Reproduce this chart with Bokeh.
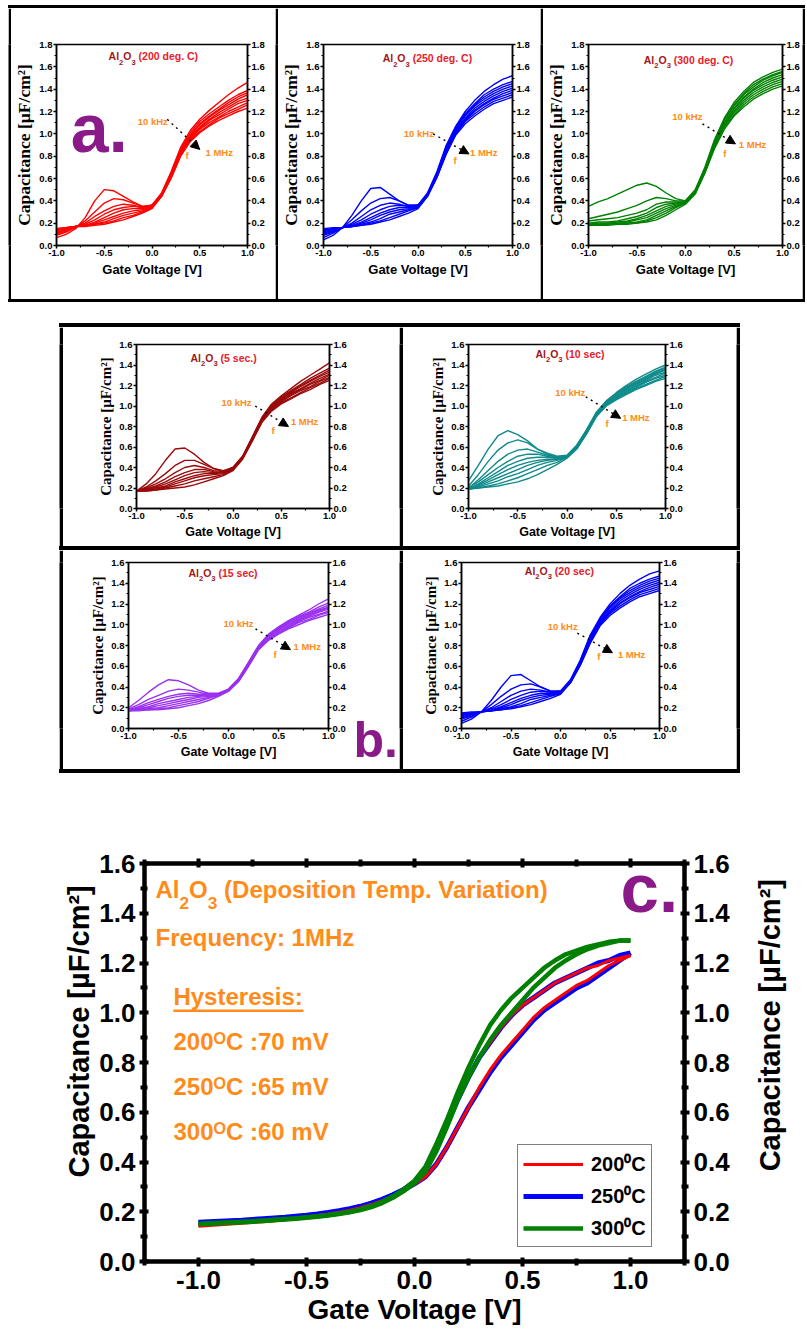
import math

from bokeh.core.validation import silence
from bokeh.core.validation.warnings import MISSING_RENDERERS
from bokeh.embed import file_html
from bokeh.layouts import column, row
from bokeh.models import (Arrow, BoxAnnotation, CustomJSTickFormatter, FixedTicker, Label,
                          Legend, LegendItem, LinearAxis, NormalHead, PrintfTickFormatter,
                          Range1d, Spacer)
from bokeh.plotting import figure
from bokeh.resources import INLINE

silence(MISSING_RENDERERS, True)

# ---------------------------------------------------------------- data
# gate bias sweep used for the frequency-dispersion families (V)
gate_v = [-1.0, -0.9, -0.8, -0.7, -0.6, -0.5, -0.4, -0.3, -0.2, -0.1, 0.0,
          0.1, 0.2, 0.3, 0.4, 0.5, 0.6, 0.7, 0.8, 0.9, 1.0]

# capacitance (uF/cm2), one row per frequency from 10 kHz (first) to 1 MHz (last)
cap_200C = [
    [0.07, 0.10, 0.15, 0.25, 0.40, 0.50, 0.49, 0.44, 0.39, 0.35, 0.36, 0.47, 0.66, 0.88, 1.03, 1.13, 1.21, 1.28, 1.35, 1.41, 1.46],
    [0.09, 0.12, 0.16, 0.22, 0.30, 0.38, 0.42, 0.41, 0.38, 0.35, 0.36, 0.46, 0.65, 0.86, 1.01, 1.11, 1.18, 1.24, 1.30, 1.35, 1.39],
    [0.10, 0.13, 0.17, 0.20, 0.26, 0.31, 0.35, 0.37, 0.36, 0.34, 0.36, 0.46, 0.64, 0.85, 0.99, 1.09, 1.16, 1.22, 1.28, 1.33, 1.37],
    [0.11, 0.14, 0.17, 0.19, 0.23, 0.28, 0.32, 0.34, 0.35, 0.34, 0.36, 0.45, 0.63, 0.84, 0.98, 1.08, 1.15, 1.21, 1.26, 1.31, 1.35],
    [0.12, 0.15, 0.17, 0.18, 0.21, 0.25, 0.29, 0.32, 0.33, 0.33, 0.35, 0.45, 0.62, 0.83, 0.97, 1.06, 1.13, 1.19, 1.24, 1.29, 1.32],
    [0.13, 0.15, 0.17, 0.18, 0.20, 0.23, 0.26, 0.29, 0.31, 0.32, 0.35, 0.45, 0.62, 0.82, 0.96, 1.05, 1.12, 1.17, 1.22, 1.27, 1.30],
    [0.14, 0.16, 0.17, 0.18, 0.19, 0.21, 0.24, 0.27, 0.29, 0.31, 0.34, 0.44, 0.61, 0.81, 0.95, 1.04, 1.10, 1.15, 1.20, 1.24, 1.28],
    [0.15, 0.16, 0.17, 0.18, 0.19, 0.20, 0.22, 0.25, 0.27, 0.30, 0.34, 0.44, 0.61, 0.81, 0.94, 1.02, 1.08, 1.14, 1.18, 1.22, 1.26],
    [0.15, 0.16, 0.17, 0.17, 0.18, 0.19, 0.21, 0.23, 0.26, 0.29, 0.33, 0.44, 0.60, 0.80, 0.93, 1.01, 1.07, 1.12, 1.16, 1.20, 1.23],
]
cap_250C = [
    [0.05, 0.09, 0.16, 0.27, 0.40, 0.51, 0.52, 0.46, 0.40, 0.36, 0.36, 0.47, 0.66, 0.90, 1.07, 1.20, 1.30, 1.38, 1.44, 1.49, 1.52],
    [0.07, 0.11, 0.16, 0.23, 0.31, 0.38, 0.42, 0.43, 0.40, 0.36, 0.36, 0.46, 0.65, 0.89, 1.06, 1.18, 1.27, 1.35, 1.40, 1.44, 1.47],
    [0.09, 0.12, 0.16, 0.20, 0.26, 0.32, 0.36, 0.38, 0.37, 0.35, 0.36, 0.46, 0.64, 0.88, 1.05, 1.17, 1.26, 1.33, 1.38, 1.42, 1.45],
    [0.10, 0.13, 0.16, 0.19, 0.23, 0.28, 0.32, 0.35, 0.36, 0.35, 0.36, 0.45, 0.63, 0.87, 1.04, 1.16, 1.25, 1.31, 1.36, 1.40, 1.43],
    [0.11, 0.14, 0.16, 0.18, 0.21, 0.25, 0.29, 0.32, 0.34, 0.34, 0.35, 0.45, 0.63, 0.86, 1.03, 1.14, 1.23, 1.29, 1.34, 1.38, 1.41],
    [0.12, 0.15, 0.16, 0.17, 0.20, 0.23, 0.27, 0.30, 0.32, 0.33, 0.35, 0.45, 0.62, 0.85, 1.02, 1.13, 1.21, 1.27, 1.32, 1.36, 1.39],
    [0.13, 0.15, 0.16, 0.17, 0.19, 0.21, 0.24, 0.28, 0.30, 0.32, 0.34, 0.44, 0.62, 0.84, 1.01, 1.12, 1.20, 1.26, 1.31, 1.34, 1.37],
    [0.14, 0.15, 0.16, 0.17, 0.18, 0.20, 0.22, 0.25, 0.28, 0.31, 0.34, 0.44, 0.61, 0.83, 1.00, 1.11, 1.18, 1.24, 1.29, 1.32, 1.35],
    [0.15, 0.16, 0.16, 0.17, 0.18, 0.19, 0.21, 0.23, 0.26, 0.29, 0.33, 0.44, 0.61, 0.82, 0.99, 1.09, 1.16, 1.22, 1.27, 1.30, 1.33],
]
cap_300C = [
    [0.35, 0.39, 0.42, 0.46, 0.50, 0.54, 0.56, 0.53, 0.47, 0.42, 0.40, 0.50, 0.70, 0.95, 1.14, 1.28, 1.38, 1.46, 1.51, 1.55, 1.58],
    [0.24, 0.26, 0.28, 0.30, 0.33, 0.36, 0.40, 0.43, 0.42, 0.40, 0.40, 0.49, 0.69, 0.94, 1.13, 1.26, 1.36, 1.44, 1.49, 1.53, 1.56],
    [0.22, 0.23, 0.24, 0.25, 0.27, 0.29, 0.32, 0.37, 0.39, 0.39, 0.39, 0.49, 0.68, 0.93, 1.12, 1.25, 1.35, 1.42, 1.48, 1.52, 1.55],
    [0.20, 0.21, 0.21, 0.22, 0.24, 0.26, 0.29, 0.34, 0.37, 0.38, 0.39, 0.48, 0.67, 0.92, 1.10, 1.23, 1.33, 1.40, 1.46, 1.50, 1.53],
    [0.19, 0.20, 0.20, 0.21, 0.22, 0.24, 0.27, 0.31, 0.35, 0.37, 0.39, 0.48, 0.67, 0.91, 1.09, 1.22, 1.32, 1.39, 1.44, 1.48, 1.51],
    [0.19, 0.19, 0.20, 0.20, 0.21, 0.23, 0.25, 0.29, 0.33, 0.36, 0.39, 0.48, 0.66, 0.90, 1.08, 1.20, 1.30, 1.37, 1.42, 1.46, 1.49],
    [0.18, 0.19, 0.19, 0.20, 0.20, 0.21, 0.23, 0.27, 0.31, 0.35, 0.38, 0.47, 0.66, 0.89, 1.07, 1.19, 1.28, 1.35, 1.40, 1.44, 1.47],
    [0.18, 0.18, 0.19, 0.19, 0.20, 0.20, 0.22, 0.25, 0.29, 0.34, 0.38, 0.47, 0.65, 0.88, 1.06, 1.17, 1.26, 1.33, 1.38, 1.42, 1.45],
    [0.18, 0.18, 0.18, 0.19, 0.19, 0.20, 0.21, 0.23, 0.27, 0.32, 0.37, 0.46, 0.65, 0.87, 1.04, 1.16, 1.24, 1.31, 1.36, 1.40, 1.43],
]
cap_5s = [
    [0.17, 0.24, 0.34, 0.47, 0.58, 0.59, 0.53, 0.45, 0.39, 0.37, 0.40, 0.51, 0.70, 0.89, 1.02, 1.10, 1.17, 1.24, 1.30, 1.36, 1.42],
    [0.17, 0.21, 0.27, 0.34, 0.42, 0.47, 0.47, 0.43, 0.39, 0.36, 0.40, 0.51, 0.69, 0.88, 1.01, 1.09, 1.15, 1.21, 1.27, 1.32, 1.37],
    [0.17, 0.20, 0.24, 0.29, 0.35, 0.40, 0.42, 0.40, 0.37, 0.36, 0.40, 0.50, 0.69, 0.88, 1.00, 1.08, 1.14, 1.20, 1.25, 1.30, 1.35],
    [0.17, 0.19, 0.22, 0.26, 0.31, 0.35, 0.38, 0.38, 0.36, 0.35, 0.39, 0.50, 0.68, 0.87, 0.99, 1.07, 1.13, 1.19, 1.24, 1.29, 1.33],
    [0.17, 0.18, 0.21, 0.24, 0.28, 0.32, 0.35, 0.36, 0.35, 0.35, 0.39, 0.50, 0.68, 0.86, 0.98, 1.06, 1.12, 1.17, 1.22, 1.27, 1.31],
    [0.17, 0.18, 0.20, 0.22, 0.26, 0.29, 0.32, 0.34, 0.34, 0.35, 0.39, 0.49, 0.67, 0.86, 0.98, 1.05, 1.11, 1.16, 1.21, 1.25, 1.30],
    [0.17, 0.18, 0.19, 0.21, 0.24, 0.27, 0.30, 0.32, 0.33, 0.34, 0.38, 0.49, 0.67, 0.85, 0.97, 1.04, 1.10, 1.15, 1.19, 1.24, 1.28],
    [0.17, 0.17, 0.18, 0.20, 0.22, 0.24, 0.27, 0.29, 0.31, 0.33, 0.38, 0.49, 0.66, 0.85, 0.96, 1.03, 1.08, 1.13, 1.18, 1.22, 1.27],
    [0.17, 0.17, 0.18, 0.19, 0.20, 0.21, 0.23, 0.26, 0.29, 0.32, 0.37, 0.48, 0.66, 0.84, 0.95, 1.02, 1.07, 1.12, 1.16, 1.21, 1.25],
]
cap_10s = [
    [0.27, 0.42, 0.58, 0.71, 0.76, 0.72, 0.66, 0.58, 0.54, 0.51, 0.52, 0.62, 0.77, 0.94, 1.05, 1.13, 1.20, 1.26, 1.31, 1.36, 1.40],
    [0.22, 0.33, 0.46, 0.57, 0.64, 0.67, 0.64, 0.58, 0.53, 0.50, 0.51, 0.61, 0.77, 0.94, 1.05, 1.12, 1.19, 1.24, 1.29, 1.34, 1.38],
    [0.20, 0.28, 0.37, 0.46, 0.53, 0.57, 0.58, 0.55, 0.52, 0.50, 0.51, 0.61, 0.76, 0.93, 1.04, 1.12, 1.18, 1.23, 1.28, 1.33, 1.37],
    [0.20, 0.26, 0.33, 0.40, 0.46, 0.51, 0.53, 0.53, 0.51, 0.49, 0.51, 0.61, 0.76, 0.93, 1.04, 1.11, 1.17, 1.22, 1.27, 1.32, 1.36],
    [0.19, 0.24, 0.30, 0.36, 0.42, 0.46, 0.49, 0.50, 0.50, 0.49, 0.51, 0.60, 0.75, 0.92, 1.03, 1.10, 1.16, 1.21, 1.26, 1.31, 1.35],
    [0.19, 0.23, 0.28, 0.33, 0.38, 0.42, 0.45, 0.47, 0.48, 0.48, 0.51, 0.60, 0.75, 0.92, 1.03, 1.10, 1.15, 1.20, 1.25, 1.30, 1.33],
    [0.19, 0.22, 0.26, 0.30, 0.34, 0.38, 0.42, 0.45, 0.47, 0.48, 0.51, 0.60, 0.74, 0.91, 1.02, 1.09, 1.14, 1.19, 1.24, 1.28, 1.32],
    [0.19, 0.21, 0.24, 0.27, 0.31, 0.34, 0.38, 0.42, 0.45, 0.47, 0.50, 0.59, 0.74, 0.91, 1.02, 1.08, 1.13, 1.18, 1.23, 1.27, 1.30],
    [0.19, 0.20, 0.22, 0.24, 0.27, 0.30, 0.34, 0.38, 0.42, 0.45, 0.50, 0.59, 0.73, 0.90, 1.01, 1.07, 1.12, 1.17, 1.21, 1.25, 1.29],
    [0.19, 0.20, 0.21, 0.22, 0.24, 0.26, 0.29, 0.33, 0.38, 0.43, 0.49, 0.58, 0.73, 0.90, 1.00, 1.06, 1.11, 1.16, 1.20, 1.24, 1.27],
]
cap_15s = [
    [0.20, 0.27, 0.35, 0.42, 0.47, 0.46, 0.42, 0.37, 0.34, 0.34, 0.38, 0.48, 0.64, 0.80, 0.91, 0.98, 1.04, 1.09, 1.14, 1.20, 1.25],
    [0.19, 0.23, 0.28, 0.32, 0.36, 0.38, 0.37, 0.35, 0.33, 0.33, 0.38, 0.48, 0.63, 0.79, 0.90, 0.97, 1.03, 1.08, 1.12, 1.17, 1.21],
    [0.18, 0.21, 0.25, 0.28, 0.31, 0.33, 0.34, 0.33, 0.33, 0.33, 0.37, 0.47, 0.63, 0.79, 0.89, 0.96, 1.02, 1.07, 1.11, 1.15, 1.19],
    [0.18, 0.20, 0.23, 0.26, 0.29, 0.31, 0.32, 0.32, 0.32, 0.33, 0.37, 0.47, 0.62, 0.78, 0.89, 0.96, 1.01, 1.06, 1.10, 1.14, 1.17],
    [0.18, 0.19, 0.21, 0.24, 0.26, 0.28, 0.30, 0.31, 0.32, 0.33, 0.37, 0.47, 0.62, 0.78, 0.88, 0.95, 1.00, 1.05, 1.09, 1.13, 1.16],
    [0.17, 0.19, 0.20, 0.22, 0.24, 0.26, 0.28, 0.30, 0.31, 0.32, 0.37, 0.46, 0.61, 0.77, 0.88, 0.94, 0.99, 1.04, 1.08, 1.12, 1.15],
    [0.17, 0.18, 0.19, 0.20, 0.22, 0.24, 0.26, 0.28, 0.30, 0.32, 0.37, 0.46, 0.61, 0.77, 0.87, 0.93, 0.98, 1.03, 1.07, 1.10, 1.13],
    [0.17, 0.18, 0.18, 0.19, 0.20, 0.22, 0.24, 0.26, 0.29, 0.32, 0.36, 0.46, 0.60, 0.76, 0.86, 0.92, 0.97, 1.02, 1.05, 1.09, 1.12],
    [0.17, 0.17, 0.18, 0.18, 0.19, 0.20, 0.22, 0.24, 0.27, 0.31, 0.36, 0.45, 0.60, 0.76, 0.85, 0.91, 0.96, 1.00, 1.04, 1.07, 1.10],
]
# the 20 s film is the same device as the 250 deg. C run
cap_20s = cap_250C

# 1 MHz hysteresis loops (forward / reverse sweep), finer bias step
gate_v_fine = [-1.0, -0.95, -0.9, -0.85, -0.8, -0.75, -0.7, -0.65, -0.6, -0.55, -0.5,
               -0.45, -0.4, -0.35, -0.3, -0.25, -0.2, -0.15, -0.1, -0.05, 0.0,
               0.05, 0.1, 0.15, 0.2, 0.25, 0.3, 0.35, 0.4, 0.45, 0.5,
               0.55, 0.6, 0.65, 0.7, 0.75, 0.8, 0.85, 0.9, 0.95, 1.0]
loop_200C_up = [0.145, 0.148, 0.151, 0.154, 0.157, 0.160, 0.163, 0.167, 0.171, 0.175, 0.180,
                0.185, 0.191, 0.198, 0.206, 0.216, 0.229, 0.245, 0.264, 0.287, 0.315,
                0.37, 0.45, 0.55, 0.65, 0.74, 0.82, 0.88, 0.94, 0.99, 1.03,
                1.06, 1.09, 1.12, 1.14, 1.16, 1.18, 1.19, 1.21, 1.22, 1.23]
loop_200C_down = [0.142, 0.145, 0.148, 0.151, 0.154, 0.157, 0.160, 0.164, 0.168, 0.172, 0.177,
                  0.182, 0.188, 0.195, 0.204, 0.214, 0.227, 0.243, 0.262, 0.285, 0.310,
                  0.34, 0.39, 0.46, 0.54, 0.62, 0.70, 0.77, 0.83, 0.88, 0.93,
                  0.98, 1.02, 1.05, 1.08, 1.11, 1.13, 1.16, 1.19, 1.21, 1.23]
loop_250C_up = [0.158, 0.160, 0.162, 0.164, 0.166, 0.169, 0.172, 0.175, 0.178, 0.182, 0.186,
                0.191, 0.197, 0.204, 0.212, 0.222, 0.235, 0.250, 0.268, 0.290, 0.318,
                0.37, 0.45, 0.55, 0.65, 0.74, 0.82, 0.88, 0.94, 0.99, 1.03,
                1.06, 1.09, 1.12, 1.14, 1.16, 1.18, 1.20, 1.21, 1.23, 1.24]
loop_250C_down = [0.155, 0.157, 0.159, 0.161, 0.163, 0.165, 0.168, 0.171, 0.174, 0.178, 0.182,
                  0.187, 0.193, 0.200, 0.209, 0.220, 0.233, 0.248, 0.266, 0.288, 0.312,
                  0.34, 0.39, 0.46, 0.54, 0.62, 0.69, 0.76, 0.82, 0.87, 0.92,
                  0.97, 1.01, 1.04, 1.07, 1.10, 1.12, 1.15, 1.18, 1.21, 1.24]
loop_300C_up = [0.152, 0.154, 0.156, 0.158, 0.160, 0.162, 0.165, 0.168, 0.171, 0.174, 0.178,
                0.182, 0.187, 0.193, 0.200, 0.210, 0.223, 0.240, 0.262, 0.290, 0.325,
                0.38, 0.47, 0.57, 0.68, 0.78, 0.87, 0.95, 1.01, 1.06, 1.10,
                1.14, 1.18, 1.21, 1.235, 1.25, 1.265, 1.275, 1.285, 1.29, 1.29]
loop_300C_down = [0.150, 0.152, 0.154, 0.156, 0.158, 0.160, 0.163, 0.166, 0.169, 0.172, 0.176,
                  0.180, 0.185, 0.191, 0.198, 0.207, 0.219, 0.235, 0.256, 0.283, 0.315,
                  0.36, 0.44, 0.54, 0.65, 0.74, 0.82, 0.89, 0.95, 1.00, 1.05,
                  1.10, 1.14, 1.18, 1.21, 1.235, 1.255, 1.27, 1.28, 1.29, 1.29]

loop_labels = ["200⁰C", "250⁰C", "300⁰C"]
hysteresis_notes = ["200ᴼC :70 mV", "250ᴼC :65 mV", "300ᴼC :60 mV"]

# axis ticks
x_ticks = [-1.0, -0.5, 0.0, 0.5, 1.0]
x_minor = [-0.75, -0.25, 0.25, 0.75]
x_minor_wide = [-1.25, -0.75, -0.25, 0.25, 0.75, 1.25]
y_ticks_18 = [0.0, 0.2, 0.4, 0.6, 0.8, 1.0, 1.2, 1.4, 1.6, 1.8]
y_minor_18 = [0.1, 0.3, 0.5, 0.7, 0.9, 1.1, 1.3, 1.5, 1.7]
y_ticks_16 = [0.0, 0.2, 0.4, 0.6, 0.8, 1.0, 1.2, 1.4, 1.6]
y_minor_16 = [0.1, 0.3, 0.5, 0.7, 0.9, 1.1, 1.3, 1.5]

# ---------------------------------------------------------------- styling
SANS = "Liberation Sans"
SERIF = "Liberation Serif"
ORANGE = "#ff8c1a"
PURPLE = "#8b1a89"
TITLE_DARK = "#a01820"
TITLE_RED = "#e8202a"


def vrule(w, h):
    """A solid black upright strip used for the panel frames."""
    return figure(width=w, height=h, title=None, toolbar_location=None, output_backend="svg",
                  min_border=0, x_axis_type=None, y_axis_type=None,
                  background_fill_color="black", border_fill_color="black",
                  outline_line_color=None)


def hrule(w, h):
    """A solid black flat strip used for the panel frames."""
    return Spacer(width=w, height=h, styles={"background-color": "black"})


def strip(w, h, y_range=None):
    """A blank canvas holding free-standing text (x measured in pixels)."""
    return figure(width=w, height=h, title=None, toolbar_location=None, output_backend="svg",
                  min_border=0, x_axis_type=None, y_axis_type=None,
                  x_range=Range1d(0, w), y_range=y_range or Range1d(0, h),
                  background_fill_color="white", border_fill_color="white",
                  outline_line_color=None)


def dress(ax, ticker, size, lw=1.5, t_out=3, m_out=2):
    ax.ticker = ticker
    ax.formatter = PrintfTickFormatter(format="%.1f")
    ax.axis_line_width = lw
    ax.major_tick_line_width = lw
    ax.minor_tick_line_width = lw * 0.8
    ax.major_tick_in = 0
    ax.major_tick_out = t_out
    ax.minor_tick_in = 0
    ax.minor_tick_out = m_out
    ax.major_label_text_font = SANS
    ax.major_label_text_font_style = "bold"
    ax.major_label_text_font_size = size
    ax.major_label_text_color = "black"
    ax.major_label_standoff = 1


def txt(x, y, text, size, color, font=SANS, dy=0.0, **kw):
    """Bold label whose baseline sits at (x, y), optionally shifted by dy pixels."""
    return Label(x=x, y=y, y_offset=-0.2 * size + dy, text=text, text_font=font,
                 text_font_style="bold", text_font_size=f"{size:.1f}px", text_color=color,
                 text_baseline="bottom", **kw)


def alumina(p, x, y, size, color):
    """Write Al2O3 with lowered digits; returns its advance width in pixels."""
    sub = 0.72 * size
    parts = [("Al", size, 0.0, 1.0 * size), ("2", sub, -0.28 * size, 0.556 * sub),
             ("O", size, 0.0, 0.778 * size), ("3", sub, -0.28 * size, 0.556 * sub)]
    off = 0.0
    for text, s, dy, w in parts:
        p.add_layout(txt(x, y, text, s, color, dy=dy, x_offset=off))
        off += w
    return off


def cv_panel(width, height, borders, y_max, y_ticks, y_minor, curves, color,
             caption, notes, fs):
    ml, mr, mt, mb = borders
    p = figure(width=width, height=height, title=None, x_range=Range1d(-1.0, 1.0),
               y_range=Range1d(0.0, y_max), toolbar_location=None, output_backend="svg",
               min_border_left=ml, min_border_right=mr, min_border_top=mt,
               min_border_bottom=mb, outline_line_color="black", outline_line_width=1.5,
               background_fill_color="white", border_fill_color="white")
    p.xgrid.visible = False
    p.ygrid.visible = False
    p.multi_line(xs=[gate_v] * len(curves), ys=curves, line_color=color, line_width=1.4)

    left, bottom = p.yaxis[0], p.xaxis[0]
    right = LinearAxis()
    p.add_layout(right, "right")
    for ax in (left, right):
        dress(ax, FixedTicker(ticks=y_ticks, minor_ticks=y_minor), fs["tick"])
    dress(bottom, FixedTicker(ticks=x_ticks, minor_ticks=x_minor), fs["tick"])

    bottom.axis_label = "Gate Voltage [V]"
    bottom.axis_label_text_font = SANS
    bottom.axis_label_text_font_style = "bold"
    bottom.axis_label_text_font_size = fs["xlab"]
    bottom.axis_label_text_color = "black"
    bottom.axis_label_standoff = 3
    left.axis_label = "Capacitance [µF/cm²]"
    left.axis_label_text_font = SERIF
    left.axis_label_text_font_style = "bold"
    left.axis_label_text_font_size = fs["ylab"]
    left.axis_label_text_color = "black"
    left.axis_label_standoff = 2

    tx, ty = notes["title"]
    adv = alumina(p, tx, ty, fs["title"], TITLE_DARK)
    p.add_layout(txt(tx, ty, caption, fs["title"], TITLE_RED,
                     x_offset=adv + 0.278 * fs["title"]))
    p.add_layout(txt(*notes["khz"], "10 kHz", fs["note"], ORANGE))
    p.add_layout(txt(*notes["mhz"], "1 MHz", fs["note"], ORANGE))
    p.add_layout(txt(*notes["f"], "f", fs["note"], ORANGE))
    x0, y0, x1, y1 = notes["arrow"]
    p.add_layout(Arrow(x_start=x0, y_start=y0, x_end=x1, y_end=y1, line_color="black",
                       line_width=1.4, line_dash="dotted",
                       end=NormalHead(size=9, fill_color="black", line_color="black")))
    return p


fs_a = dict(tick="9.5px", xlab="13px", ylab="17.5px", title=10.5, note=9.5)
fs_b = dict(tick="9.5px", xlab="12.5px", ylab="15px", title=10.5, note=9.5)

# ---------------------------------------------------------------- row a
pa1 = cv_panel(264, 291, (38, 28, 36, 52), 1.8, y_ticks_18, y_minor_18, cap_200C, "#ff0000",
               "(200 deg. C)",
               dict(title=(-0.455, 1.66), khz=(-0.15, 1.08), arrow=(0.16, 1.13, 0.50, 0.86),
                    mhz=(0.56, 0.80), f=(0.35, 0.77)), fs_a)
pa1.add_layout(txt(-0.85, 0.83, "a.", 68, PURPLE))
pa2 = cv_panel(262, 291, (39, 28, 36, 54), 1.8, y_ticks_18, y_minor_18, cap_250C, "#0000ff",
               "(250 deg. C)",
               dict(title=(-0.374, 1.64), khz=(-0.15, 0.97), arrow=(0.16, 1.00, 0.54, 0.82),
                    mhz=(0.55, 0.80), f=(0.375, 0.73)), fs_a)
pa3 = cv_panel(259, 291, (41, 12, 32, 51), 1.8, y_ticks_18, y_minor_18, cap_300C, "#008000",
               "(300 deg. C)",
               dict(title=(-0.43, 1.63), khz=(-0.136, 1.125), arrow=(0.175, 1.09, 0.515, 0.91),
                    mhz=(0.55, 0.874), f=(0.39, 0.79)), fs_a)

box_a = column(
    hrule(797, 3),
    row(vrule(3, 291), pa1, vrule(3, 291), pa2, vrule(3, 291), pa3, vrule(3, 291)),
    hrule(797, 3),
)

# ---------------------------------------------------------------- row b
pb1 = cv_panel(336, 219, (73, 70, 17, 38), 1.6, y_ticks_16, y_minor_16, cap_5s, "#9a0a0a",
               "(5 sec.)",
               dict(title=(-0.44, 1.43), khz=(-0.12, 0.995), arrow=(0.23, 1.0, 0.575, 0.80),
                    mhz=(0.60, 0.81), f=(0.40, 0.73)), fs_b)
pb2 = cv_panel(333, 219, (65, 71, 16, 38), 1.6, y_ticks_16, y_minor_16, cap_10s, "#108a8a",
               "(10 sec)",
               dict(title=(-0.32, 1.47), khz=(-0.12, 1.10), arrow=(0.19, 1.09, 0.545, 0.88),
                    mhz=(0.56, 0.85), f=(0.39, 0.79)), fs_b)
pb3 = cv_panel(285, 219, (65, 20, 12, 37), 1.6, y_ticks_16, y_minor_16, cap_15s, "#9a30f0",
               "(15 sec)",
               dict(title=(-0.40, 1.46), khz=(-0.05, 0.98), arrow=(0.27, 0.96, 0.62, 0.76),
                    mhz=(0.65, 0.76), f=(0.45, 0.68)), fs_b)
tag_b = strip(51, 73)
tag_b.add_layout(txt(5, 12, "b.", 50, PURPLE))
tag_col = column(Spacer(width=51, height=146), tag_b)
pb4 = cv_panel(333, 219, (58, 77, 9, 41), 1.6, y_ticks_16, y_minor_16, cap_20s, "#0000ff",
               "(20 sec)",
               dict(title=(-0.36, 1.48), khz=(-0.13, 0.95), arrow=(0.17, 0.92, 0.525, 0.73),
                    mhz=(0.58, 0.68), f=(0.37, 0.66)), fs_b)

box_b = column(
    hrule(681, 4),
    row(vrule(4, 219), pb1, vrule(4, 219), pb2, vrule(4, 219)),
    hrule(681, 4),
    row(vrule(4, 219), pb3, tag_col, vrule(4, 219), pb4, vrule(4, 219)),
    hrule(681, 4),
)

# ---------------------------------------------------------------- panel c
pc = figure(width=654, height=563, title=None, x_range=Range1d(-1.25, 1.25),
            y_range=Range1d(0.0, 1.6), toolbar_location=None, output_backend="svg",
            min_border_left=48, min_border_right=66, min_border_top=90, min_border_bottom=75,
            outline_line_color="black", outline_line_width=4,
            background_fill_color="white", border_fill_color="white")
pc.xgrid.visible = False
pc.ygrid.visible = False

r250 = pc.multi_line(xs=[gate_v_fine] * 2, ys=[loop_250C_up, loop_250C_down],
                     line_color="#0000ff", line_width=5)
r200 = pc.multi_line(xs=[gate_v_fine] * 2, ys=[loop_200C_up, loop_200C_down],
                     line_color="#ff0000", line_width=3)
r300 = pc.multi_line(xs=[gate_v_fine] * 2, ys=[loop_300C_up, loop_300C_down],
                     line_color="#008000", line_width=4.5)


def dress_big(ax, ticker, labels=True):
    ax.ticker = ticker
    ax.formatter = (PrintfTickFormatter(format="%.1f") if labels
                    else CustomJSTickFormatter(code="return ''"))
    ax.axis_line_width = 4
    ax.major_tick_line_width = 4
    ax.minor_tick_line_width = 4
    ax.major_tick_in = 4
    ax.major_tick_out = 5
    ax.minor_tick_in = 3
    ax.minor_tick_out = 4
    ax.major_label_text_font = SANS
    ax.major_label_text_font_style = "bold"
    ax.major_label_text_font_size = "26px" if labels else "1px"
    ax.major_label_text_color = "black"
    ax.major_label_standoff = 4


c_left, c_bottom = pc.yaxis[0], pc.xaxis[0]
c_right, c_top = LinearAxis(), LinearAxis()
pc.add_layout(c_right, "right")
pc.add_layout(c_top, "above")
dress_big(c_left, FixedTicker(ticks=y_ticks_16, minor_ticks=y_minor_16))
dress_big(c_right, FixedTicker(ticks=y_ticks_16, minor_ticks=y_minor_16))
dress_big(c_bottom, FixedTicker(ticks=x_ticks, minor_ticks=x_minor_wide))
dress_big(c_top, FixedTicker(ticks=x_ticks, minor_ticks=x_minor_wide), labels=False)
c_bottom.axis_label = "Gate Voltage [V]"
c_bottom.axis_label_text_font = SANS
c_bottom.axis_label_text_font_style = "bold"
c_bottom.axis_label_text_font_size = "28px"
c_bottom.axis_label_text_color = "black"
c_bottom.axis_label_standoff = 2

note_size = 24
adv_c = alumina(pc, -1.199, 1.459, note_size, ORANGE)
pc.add_layout(txt(-1.199, 1.459, "(Deposition Temp. Variation)", note_size, ORANGE,
                  x_offset=adv_c + 0.278 * note_size))
pc.add_layout(txt(-1.199, 1.266, "Frequency: 1MHz", note_size, ORANGE))
pc.add_layout(txt(-1.116, 1.029, "Hysteresis:", note_size, ORANGE))
pc.add_layout(BoxAnnotation(left=-1.116, right=-0.514, bottom=1.003, top=1.013,
                            fill_color=ORANGE, fill_alpha=1.0, line_alpha=0.0))
for yy, line in zip([0.848, 0.667, 0.486], hysteresis_notes):
    pc.add_layout(txt(-1.116, yy, line, note_size, ORANGE))
pc.add_layout(txt(0.954, 1.399, "c.", 69, PURPLE))

legend = Legend(items=[LegendItem(label=loop_labels[0], renderers=[r200]),
                       LegendItem(label=loop_labels[1], renderers=[r250]),
                       LegendItem(label=loop_labels[2], renderers=[r300])],
                location=(373, 14), label_text_font=SANS, label_text_font_style="bold",
                label_text_font_size="20px", label_text_color="black",
                glyph_width=60, glyph_height=20, label_height=20, spacing=5, padding=5,
                margin=0, label_standoff=8, border_line_color="black", border_line_width=1.5,
                background_fill_color="white", background_fill_alpha=1.0)
pc.add_layout(legend)

# rotated capacitance titles on either side of panel c (same vertical scale as the plot)
ylab = dict(text_align="center", text_baseline="middle", angle=math.pi / 2,
            text_font=SANS, text_font_style="bold", text_font_size="29px", text_color="black")
side_l = strip(96, 563, y_range=Range1d(0.0, 1.6))
side_l.add_layout(Label(x=78, y=0.925, text="Capacitance [µF/cm²]", **ylab))
side_r = strip(57, 563, y_range=Range1d(0.0, 1.6))
side_r.add_layout(Label(x=19, y=0.95, text="Capacitance [µF/cm²]", **ylab))

# ---------------------------------------------------------------- page
page = column(
    Spacer(width=807, height=5),
    row(Spacer(width=8, height=297), box_a),
    Spacer(width=807, height=21),
    row(Spacer(width=59, height=450), box_b),
    row(side_l, pc, side_r),
)

open("out.html", "w").write(file_html(page, INLINE))
